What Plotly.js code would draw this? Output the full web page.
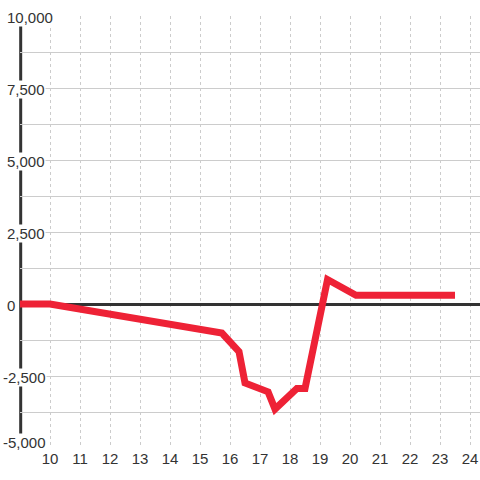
<!DOCTYPE html>
<html>
<head>
<meta charset="utf-8">
<script src="https://cdn.plot.ly/plotly-3.0.1.min.js"></script>
<style>html,body{margin:0;padding:0;background:#fff;}#chart{width:480px;height:480px;}</style>
</head>
<body>
<div id="chart"></div>
<script>
var xValues = [9, 10, 15.73, 16.3, 16.5, 17.27, 17.5, 18.23, 18.5, 19.25, 20.2, 23.5];
var yValues = [0, 0, -1010, -1650, -2740, -3050, -3650, -2930, -2930, 850, 300, 300];
var yTickVals = [10000, 7500, 5000, 2500, 0, -2500, -5000];
var yTickText = ['10,000', '7,500', '5,000', '2,500', '0', '-2,500', '-5,000'];
var xTickVals = [10, 11, 12, 13, 14, 15, 16, 17, 18, 19, 20, 21, 22, 23, 24];

var textColor = '#333333';
var annotations = yTickVals.map(function (v, i) {
  var neg = yTickText[i].charAt(0) === '-';
  var isBottom = i === yTickVals.length - 1;
  return {
    xref: 'paper', yref: 'y', x: 0, y: v,
    xanchor: 'left', yanchor: 'middle',
    xshift: neg ? -18 : -14,
    yshift: isBottom ? 6 : -1,
    text: yTickText[i], showarrow: false,
    bgcolor: '#ffffff', borderpad: 0,
    font: {family: 'Liberation Sans, Arial, sans-serif', size: 15, color: textColor}
  };
});

var data = [{
  x: xValues, y: yValues, type: 'scatter', mode: 'lines',
  line: {color: '#ee2236', width: 7},
  hoverinfo: 'none'
}];

var layout = {
  width: 480, height: 480,
  margin: {l: 20, r: 0, t: 16, b: 32, pad: 0},
  paper_bgcolor: '#ffffff', plot_bgcolor: 'rgba(0,0,0,0)',
  showlegend: false,
  xaxis: {
    range: [9, 24.333], tickvals: xTickVals, ticktext: xTickVals.map(String),
    showgrid: true, gridcolor: '#cccccc', gridwidth: 1, griddash: 'dot',
    zeroline: false, showline: false, ticks: '',
    tickfont: {family: 'Liberation Sans, Arial, sans-serif', size: 15, color: textColor}
  },
  yaxis: {
    range: [-5000, 10000], dtick: 1250, tick0: 0,
    showgrid: true, gridcolor: '#cccccc', gridwidth: 1,
    zeroline: true, zerolinecolor: '#333333', zerolinewidth: 3,
    showticklabels: false, ticks: '', showline: false
  },
  shapes: [{
    type: 'line', xref: 'paper', yref: 'paper', x0: 0.0015, x1: 0.0015, y0: 0, y1: 1,
    line: {color: '#333333', width: 3}, layer: 'below'
  }],
  annotations: annotations
};

Plotly.newPlot('chart', data, layout, {staticPlot: true, displayModeBar: false});
</script>
</body>
</html>
